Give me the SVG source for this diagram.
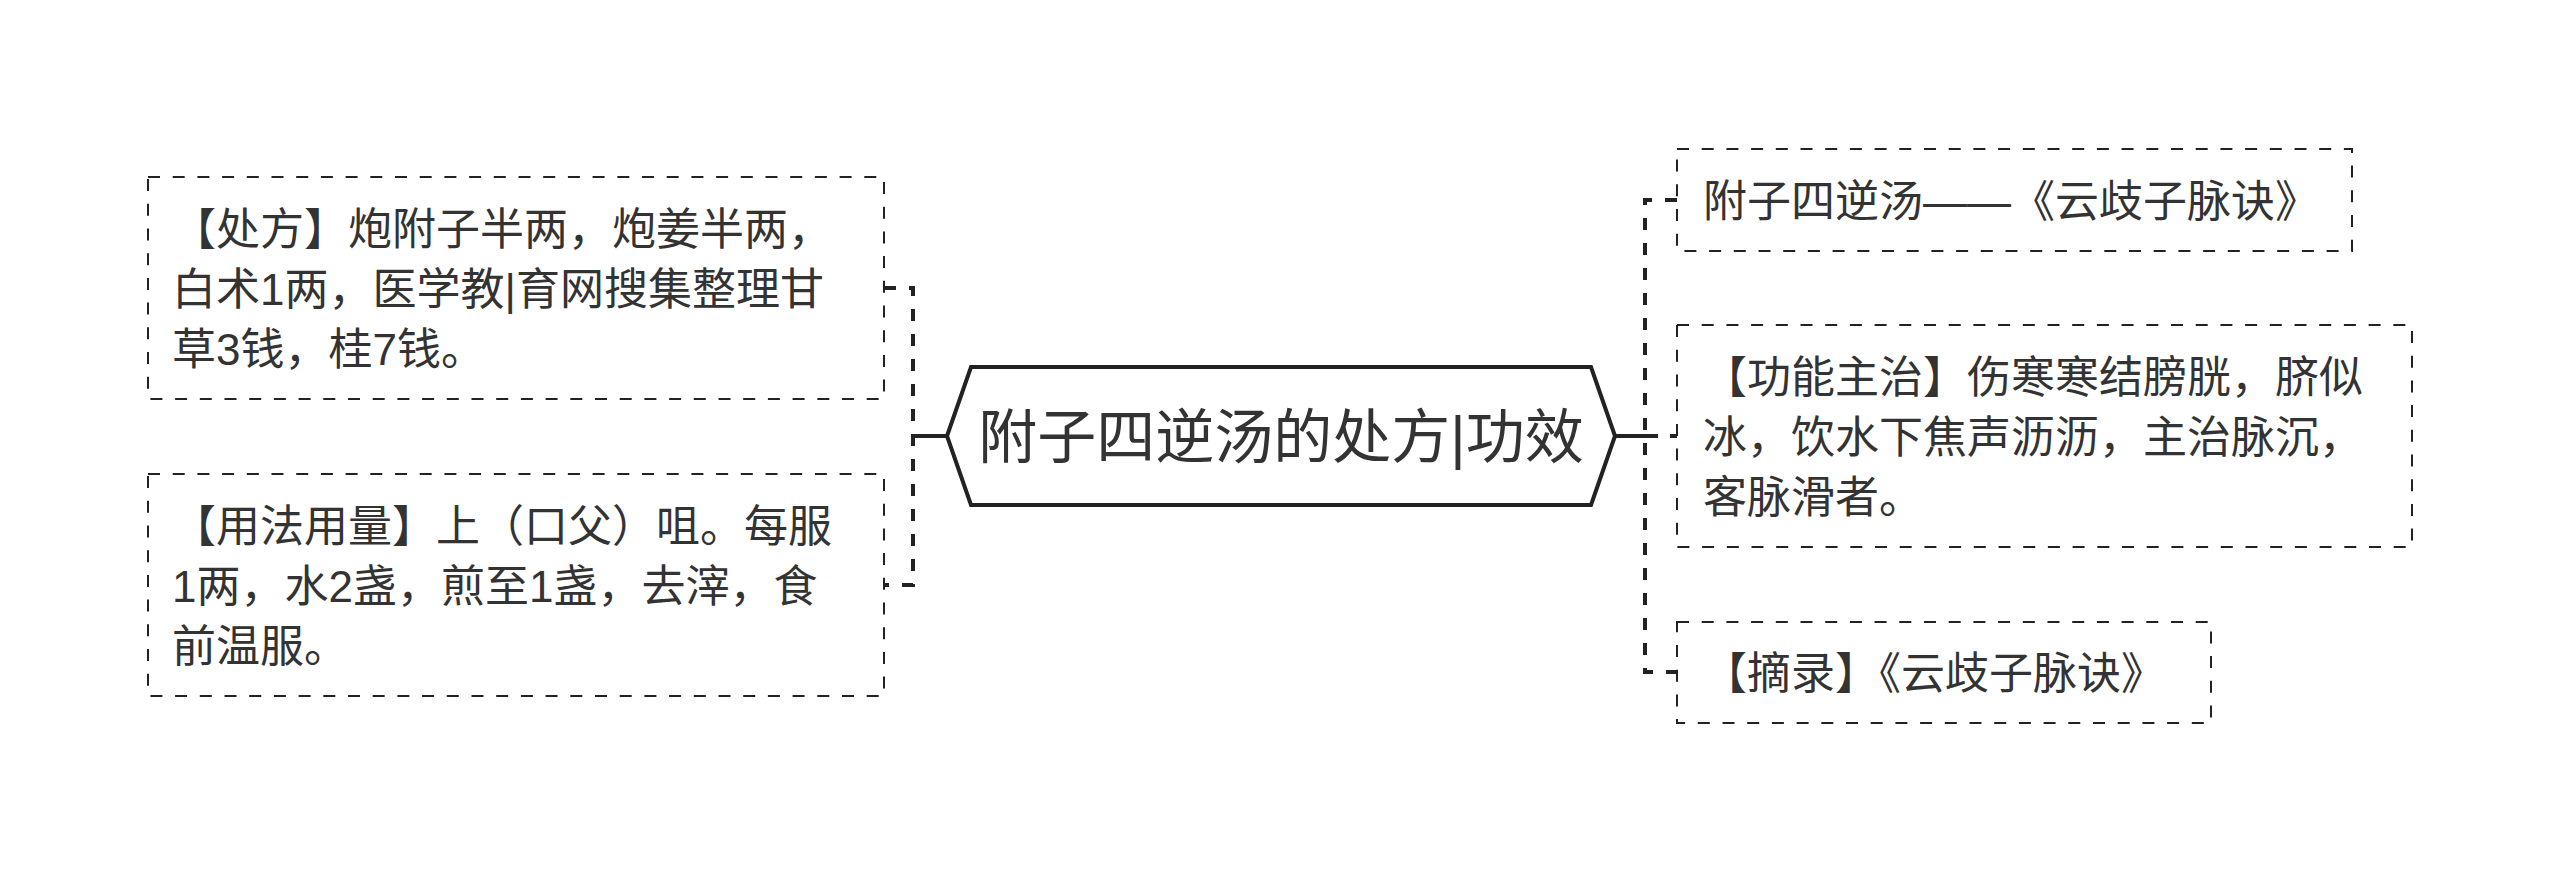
<svg xmlns="http://www.w3.org/2000/svg" width="2560" height="873" viewBox="0 0 2560 873">
<style>
  .bg { fill: #ffffff; }
  .box { fill: #ffffff; stroke: #222222; stroke-width: 2; stroke-dasharray: 12 12.7; }
  .hex { fill: #ffffff; stroke: #222222; stroke-width: 4; stroke-linejoin: miter; }
  .conn { fill: none; stroke: #222222; stroke-width: 4; stroke-dasharray: 12 13; }
  .solid { fill: none; stroke: #222222; stroke-width: 4; }
  .t { font-family: "Liberation Sans", "Noto Sans CJK SC", sans-serif; font-size: 44px; fill: #333333; }
  .tc { font-family: "Liberation Sans", "Noto Sans CJK SC", sans-serif; font-size: 59px; fill: #333333; text-anchor: middle; }
</style>
<rect class="bg" x="0" y="0" width="2560" height="873"/>
<g id="connectors">
  <path class="conn" d="M884,288 H913 V585 H884"/>
  <path class="solid" d="M913,436 H947"/>
  <path class="conn" d="M1677,200 H1645 V672 H1677"/>
  <path class="conn" d="M1645,436 H1677"/>
  <path class="solid" d="M1615,436 H1658"/>
</g>
<g id="center">
  <polygon class="hex" points="947,436 971,367 1591,367 1615,436 1591,505 971,505"/>
  <text class="tc" x="1281" y="458">附子四逆汤的处方|功效</text>
</g>
<g id="node-chufang">
  <rect class="box" x="148" y="177" width="736" height="222"/>
  <text class="t" x="172" y="245">【处方】炮附子半两，炮姜半两，</text>
  <text class="t" x="172" y="305">白术1两，医学教|育网搜集整理甘</text>
  <text class="t" x="172" y="365">草3钱，桂7钱。</text>
</g>
<g id="node-yongfa">
  <rect class="box" x="148" y="474" width="736" height="222"/>
  <text class="t" x="172" y="542">【用法用量】上（口父）咀。每服</text>
  <text class="t" x="172" y="602">1两，水2盏，煎至1盏，去滓，食</text>
  <text class="t" x="172" y="662">前温服。</text>
</g>
<g id="node-source">
  <rect class="box" x="1677" y="149" width="675" height="102"/>
  <text class="t" x="1703" y="217">附子四逆汤——《云歧子脉诀》</text>
</g>
<g id="node-gongneng">
  <rect class="box" x="1677" y="325" width="735" height="222"/>
  <text class="t" x="1703" y="393">【功能主治】伤寒寒结膀胱，脐似</text>
  <text class="t" x="1703" y="453">冰，饮水下焦声沥沥，主治脉沉，</text>
  <text class="t" x="1703" y="513">客脉滑者。</text>
</g>
<g id="node-zhailu">
  <rect class="box" x="1677" y="622" width="534" height="101"/>
  <text class="t" x="1703" y="689">【摘录】《云歧子脉诀》</text>
</g>
</svg>
